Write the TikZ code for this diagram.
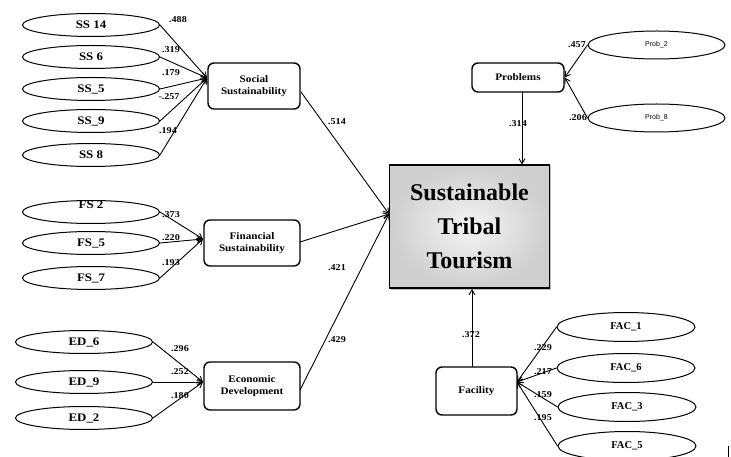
\documentclass[tikz,border=0pt]{standalone}
\usepackage{fontspec}
\setmainfont{Liberation Serif}
\newfontfamily\probfont{Liberation Sans}
\newfontfamily\wideserif[FakeStretch=1.12]{Liberation Serif}
\usetikzlibrary{shapes.geometric,arrows.meta,shadows}
\begin{document}
\begin{tikzpicture}[x=1pt,y=-1pt,
  ell/.style={draw,ellipse,line width=1pt,minimum width=137pt,minimum height=23pt,inner sep=0pt,font=\wideserif\fontsize{11.5}{11.5}\selectfont\bfseries},
  pell/.style={ell,minimum height=28pt,font=\probfont\fontsize{7}{7}\selectfont},
  fell/.style={ell,minimum width=138pt,minimum height=29pt,font=\fontsize{10.5}{10.5}\selectfont\bfseries},
  rbox/.style={draw,rounded corners=6pt,line width=1.4pt,inner sep=0pt,align=center,font=\wideserif\fontsize{10}{12}\selectfont\bfseries},
  lab/.style={font=\wideserif\fontsize{9}{9}\selectfont\bfseries,inner sep=0pt},
  arr/.style={line width=0.9pt,-{Straight Barb[length=5pt,width=6pt]}},
  ln/.style={line width=0.9pt}]
\useasboundingbox (0,0) rectangle (731,457);
% Social
\node[ell] (ss14) at (91,25) {SS 14};
\node[ell] (ss6) at (91,57) {SS 6};
\node[ell] (ss5) at (91,89) {SS\_5};
\node[ell] (ss9) at (91,121) {SS\_9};
\node[ell] (ss8) at (91,155) {SS 8};
\node[rbox,minimum width=92pt,minimum height=46pt] (soc) at (254,86) {Social\\Sustainability};
\coordinate (socin) at (207,78);
\foreach \e in {ss14,ss6,ss5,ss9,ss8} \draw[arr] (\e.east) -- (socin);
\node[lab] (l1) at (178,20) {.488};
\node[lab] (l2) at (171,50) {.319};
\node[lab] (l3) at (171,73) {.179};
\node[lab] (l4) at (169,97) {-.257};
\node[lab] (l5) at (168,131) {.194};
% Financial
\node[ell] (fs2) at (91,212) {};
\node[font=\wideserif\fontsize{11.5}{11.5}\selectfont\bfseries,inner sep=0pt] (fs2t) at (91,205) {FS 2};
\node[ell] (fs5) at (91,243) {FS\_5};
\node[ell] (fs7) at (91,278) {FS\_7};
\node[rbox,minimum width=96pt,minimum height=46pt] (fin) at (252,243) {Financial\\Sustainability};
\coordinate (finin) at (203,239);
\foreach \e in {fs2,fs5,fs7} \draw[arr] (\e.east) -- (finin);
\node[lab] (l6) at (171,215) {.373};
\node[lab] (l7) at (171,238) {.220};
\node[lab] (l8) at (171,263) {.193};
% Economic
\node[ell] (ed6) at (84,342) {ED\_6};
\node[ell] (ed9) at (84,382) {ED\_9};
\node[ell] (ed2) at (84,418) {ED\_2};
\node[rbox,minimum width=96pt,minimum height=48pt] (eco) at (252,386) {Economic\\Development};
\coordinate (ecoin) at (203,382);
\foreach \e in {ed6,ed9,ed2} \draw[arr] (\e.east) -- (ecoin);
\node[lab] (l9) at (180,349) {.296};
\node[lab] (l10) at (180,372) {.252};
\node[lab] (l11) at (180,396) {.180};
% Central
\node[draw,line width=1.5pt,minimum width=160pt,minimum height=123pt,inner sep=0pt,
  inner color=gray!8,outer color=gray!38,drop shadow={shadow xshift=1.5pt,shadow yshift=-1.5pt,opacity=0.5},
  align=center,font=\fontsize{24}{34}\selectfont\bfseries] (stt) at (469.5,226.5) {Sustainable\\Tribal\\Tourism};
\coordinate (sttin) at (389,214);
\coordinate (socout) at (301,92);
\coordinate (finout) at (300,242);
\coordinate (ecoout) at (300,390);
\draw[arr] (socout) -- (sttin);
\draw[arr] (finout) -- (sttin);
\draw[arr] (ecoout) -- (sttin);
\node[lab] (l12) at (337,122) {.514};
\node[lab] (l13) at (337,268) {.421};
\node[lab] (l14) at (337,340) {.429};
% Problems
\node[rbox,minimum width=92pt,minimum height=29pt] (prob) at (518,77.5) {Problems};
\node[pell] (p2) at (656.5,45) {Prob\_2};
\node[pell] (p8) at (656.5,118) {Prob\_8};
\draw[arr] (p2.west) -- (prob.east);
\draw[arr] (p8.west) -- (prob.east);
\coordinate (probout) at (522,92);
\coordinate (sttinp) at (522,164.5);
\draw[arr] (probout) -- (sttinp);
\node[lab] (l15) at (518,124) {.314};
\node[lab] (l16) at (577,45) {.457};
\node[lab] (l17) at (578,118) {.206};
% Facility
\node[rbox,minimum width=81pt,minimum height=48pt] (fac) at (476.5,391) {Facility};
\node[fell] (f1) at (626,327) {FAC\_1};
\node[fell] (f6) at (626,368) {FAC\_6};
\node[fell] (f3) at (627,407) {FAC\_3};
\node[fell] (f5) at (627,446) {FAC\_5};
\coordinate (facin) at (517,382);
\foreach \e in {f1,f6,f3,f5} \draw[arr] (\e.west) -- (facin);
\coordinate (facout) at (472,367);
\coordinate (sttinf) at (472,289);
\draw[arr] (facout) -- (sttinf);
\node[lab] (l18) at (471,335) {.372};
\node[lab] (l19) at (543,348) {.229};
\node[lab] (l20) at (543,372) {.217};
\node[lab] (l21) at (543,395) {.159};
\node[lab] (l22) at (543,418) {.195};
% stray mark
\coordinate (m1) at (728,446);
\coordinate (m2) at (728,457);
\draw[line width=0.8pt] (m1) -- (m2);
\end{tikzpicture}
\end{document}
